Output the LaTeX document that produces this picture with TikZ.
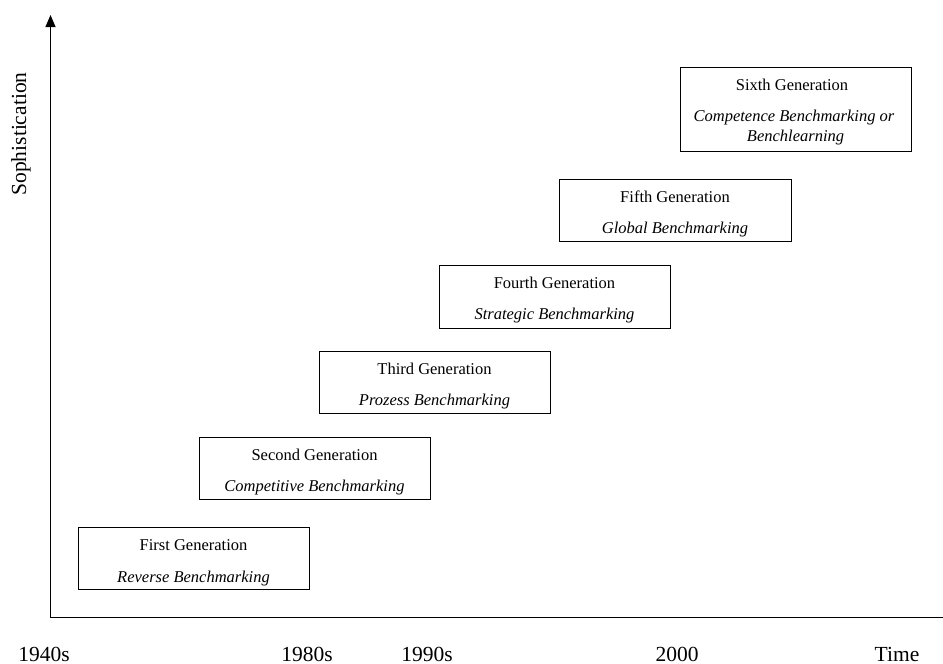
\documentclass[tikz,border=0pt]{standalone}
\usepackage{fontspec}
\setmainfont{Liberation Serif}
\usetikzlibrary{arrows.meta}
\begin{document}
\begin{tikzpicture}[x=1pt,y=-1pt,
  genbox/.style={draw, line width=0.9pt},
  boxtext/.style={font=\fontsize{16.5}{20}\selectfont, inner sep=0pt, anchor=base},
  axlabel/.style={font=\fontsize{21.5}{24}\selectfont, inner sep=0pt, anchor=base}]
\useasboundingbox (0,0) rectangle (943,664);
% axes
\coordinate (origin) at (50.5,617.5);
\coordinate (ytop) at (50.5,15);
\coordinate (xend) at (943,617.5);
\draw[line width=1.1pt, -{Triangle[length=12pt,width=10pt]}] (origin) -- (ytop);
\draw[line width=1.1pt] (origin) -- (xend);
\node[font=\fontsize{21.5}{24}\selectfont, rotate=90, inner sep=0pt] (soph) at (21,134) {Sophistication};
% boxes
\draw[genbox] (78,527) rectangle (309,589);
\draw[genbox] (199,437) rectangle (430,499);
\draw[genbox] (319,351) rectangle (550,413);
\draw[genbox] (439,265) rectangle (670,328);
\draw[genbox] (559,179) rectangle (791,241);
\draw[genbox] (680,67) rectangle (911,151);
% texts
\node[boxtext] (g1a) at (193.5,550) {First Generation};
\node[boxtext] (g1b) at (193.5,582) {\itshape Reverse Benchmarking};
\node[boxtext] (g2a) at (314.5,460) {Second Generation};
\node[boxtext] (g2b) at (314.5,491) {\itshape Competitive Benchmarking};
\node[boxtext] (g3a) at (434.5,374) {Third Generation};
\node[boxtext] (g3b) at (434.5,405) {\itshape Prozess Benchmarking};
\node[boxtext] (g4a) at (554.5,288) {Fourth Generation};
\node[boxtext] (g4b) at (554.5,319) {\itshape Strategic Benchmarking};
\node[boxtext] (g5a) at (675,202) {Fifth Generation};
\node[boxtext] (g5b) at (675,233) {\itshape Global Benchmarking};
\node[boxtext] (g6a) at (792,90) {Sixth Generation};
\node[boxtext] (g6b) at (794,121) {\itshape Competence Benchmarking or};
\node[boxtext] (g6c) at (795.5,141) {\itshape Benchlearning};
% axis labels
\node[axlabel] (t1) at (44,661) {1940s};
\node[axlabel] (t2) at (307,661) {1980s};
\node[axlabel] (t3) at (427,661) {1990s};
\node[axlabel] (t4) at (677,661) {2000};
\node[axlabel] (t5) at (897,661) {Time};
\end{tikzpicture}
\end{document}
